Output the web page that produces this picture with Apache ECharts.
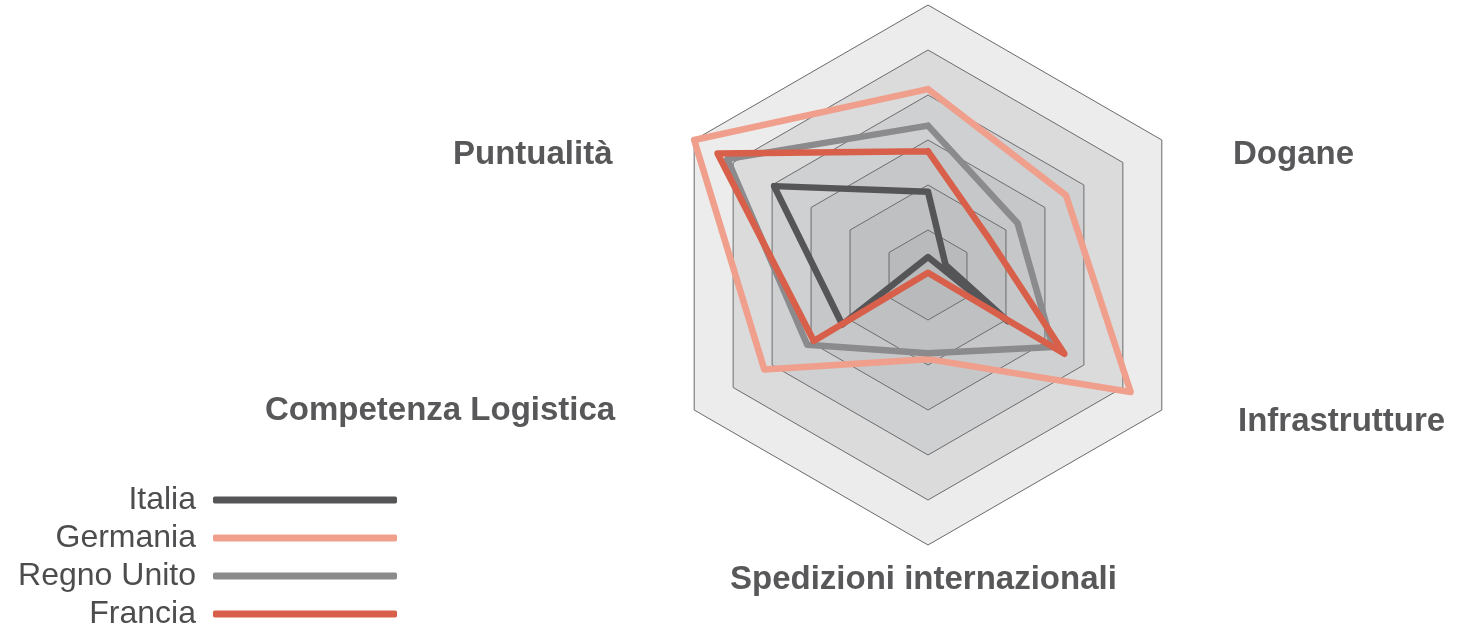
<!DOCTYPE html>
<html>
<head>
<meta charset="utf-8">
<script src="https://cdn.jsdelivr.net/npm/echarts@6/dist/echarts.min.js"></script>
<style>
  html, body { margin: 0; padding: 0; background: #fff; }
  #chart { width: 1461px; height: 624px; }
</style>
</head>
<body>
<div id="chart"></div>
<script>
// axes run counter-clockwise from the top (ECharts radar order); top axis has no label
const indicators = ['', 'Puntualità', 'Competenza Logistica', 'Spedizioni internazionali', 'Infrastrutture', 'Dogane']
const countries = ['Italia', 'Germania', 'Regno Unito', 'Francia']

const italia = [1.85, 3.95, 2.2, -0.4, 2.05, 0.45]
const germania = [4.13, 6.0, 4.2, 1.87, 5.2, 3.54]
const regnoUnito = [3.32, 5.15, 3.1, 1.74, 3.2, 2.3]
const francia = [2.75, 5.4, 2.93, -0.05, 3.5, 1.58]

const scaleMin = 0
const scaleMax = 6

// label anchors (left edge, vertical middle), same order as indicators
const labelPos = [null, [453, 155], [265, 411], [730, 580], [1238, 422], [1233, 155]]

const colors = ['#555557', '#ef9f8c', '#8b8b8e', '#d8604a']
const seriesValues = [italia, germania, regnoUnito, francia]

const chart = echarts.init(document.getElementById('chart'), null, { renderer: 'canvas' })

const labels = indicators
  .map((name, i) => ({ name, pos: labelPos[i] }))
  .filter(d => d.name)
  .map(d => ({
    type: 'text',
    x: d.pos[0],
    y: d.pos[1],
    style: {
      text: d.name,
      fill: '#58585a',
      font: 'bold 33px "Liberation Sans", Arial, sans-serif',
      align: 'left',
      verticalAlign: 'middle',
    },
  }))

chart.setOption({
  animation: false,
  backgroundColor: '#fff',
  legend: {
    data: countries,
    orient: 'vertical',
    right: 1064,
    top: 484,
    height: 220,
    padding: 0,
    itemGap: 6,
    itemWidth: 184,
    itemHeight: 7,
    align: 'right',
    icon: 'roundRect',
    selectedMode: false,
    textStyle: {
      fontFamily: '"Liberation Sans", Arial, sans-serif',
      fontSize: 32,
      color: '#4d4d4f',
      padding: [0, 12, 0, 0],
    },
  },
  radar: {
    center: [928, 275],
    radius: 270,
    startAngle: 90,
    splitNumber: 6,
    shape: 'polygon',
    indicator: indicators.map(name => ({ name, min: scaleMin, max: scaleMax })),
    axisName: { show: false },
    axisLine: { show: false },
    axisTick: { show: false },
    axisLabel: { show: false },
    splitLine: { lineStyle: { color: '#6a6a6c', width: 1 } },
    splitArea: {
      show: true,
      areaStyle: {
        color: ['#b9babc', '#bfc0c2', '#c6c7c9', '#cfd0d2', '#dbdbdc', '#ececec'],
      },
    },
  },
  series: [{
    type: 'radar',
    symbol: 'none',
    data: countries.map((name, i) => ({
      name,
      value: seriesValues[i],
      itemStyle: { color: colors[i] },
      lineStyle: { color: colors[i], width: 6.5, join: 'round', cap: 'round' },
    })),
  }],
  graphic: labels,
})
</script>
</body>
</html>
